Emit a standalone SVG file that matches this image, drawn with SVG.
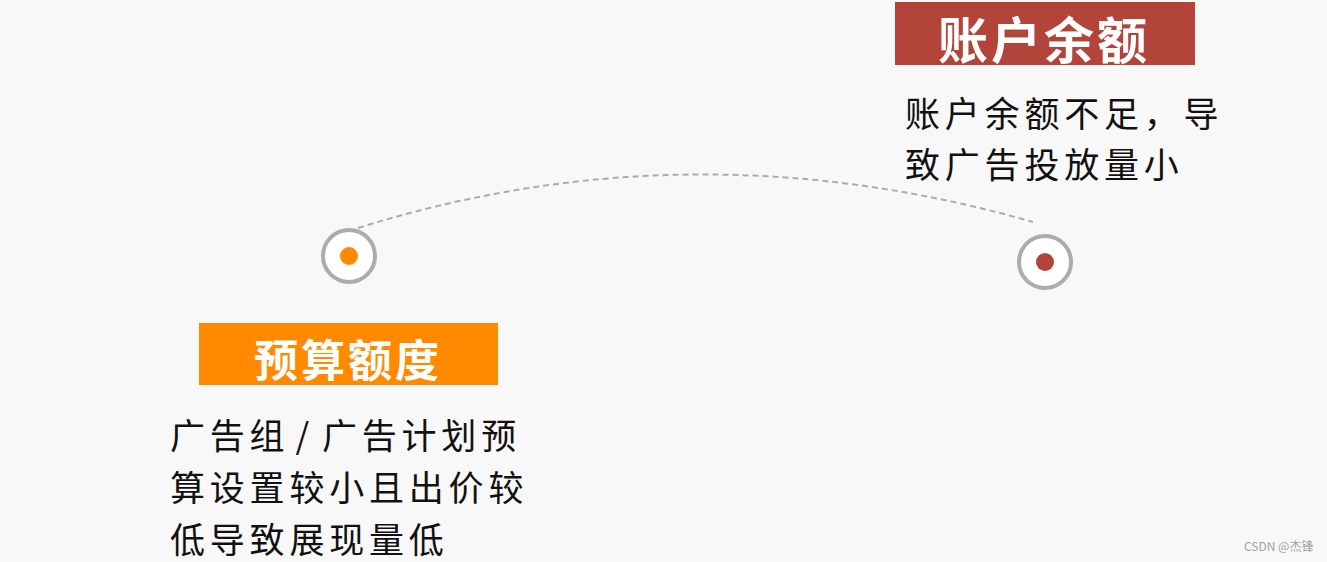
<svg xmlns="http://www.w3.org/2000/svg" width="1327" height="562" viewBox="0 0 1327 562">
<style>
.title{font-family:"Noto Sans CJK SC","Noto Sans",sans-serif;font-weight:bold;fill:#ffffff;text-anchor:middle}
.body{font-family:"Noto Sans CJK SC","Noto Sans",sans-serif;font-size:35px;fill:#111111;letter-spacing:4.8px}
.ring{fill:#ffffff;stroke:#acacac;stroke-width:4}
</style>
<rect width="1327" height="562" fill="#f8f8f8"/>
<g id="connectors">
<path d="M358,228 Q690,124 1033,222" fill="none" stroke="#acacac" stroke-width="2" stroke-dasharray="6 4"/>
</g>
<g id="node-budget">
<circle class="ring" cx="349" cy="256" r="26"/>
<circle cx="349" cy="256" r="9" fill="#ff8a00"/>
<rect x="199" y="323" width="299" height="62" fill="#ff8a00"/>
<text class="title" x="348" y="377" font-size="44" letter-spacing="3">预算额度</text>
<text class="body" x="170" y="449">广告组<tspan dx="6">/</tspan><tspan dx="8">广告计划预</tspan></text>
<text class="body" x="170" y="501">算设置较小且出价较</text>
<text class="body" x="170" y="553">低导致展现量低</text>
</g>
<g id="node-balance">
<circle class="ring" cx="1045" cy="262" r="26"/>
<circle cx="1045" cy="262" r="9" fill="#b3443a"/>
<rect x="895" y="2" width="300" height="63" fill="#b3443a"/>
<text class="title" x="1044" y="59" font-size="50" letter-spacing="3">账户余额</text>
<text class="body" x="905" y="127">账户余额不足，导</text>
<text class="body" x="905" y="178">致广告投放量小</text>
</g>
<text x="1244" y="551" font-family="'Noto Sans CJK SC','Noto Sans',sans-serif" font-size="12" fill="#a0a0a0">CSDN @杰锋</text>
</svg>
